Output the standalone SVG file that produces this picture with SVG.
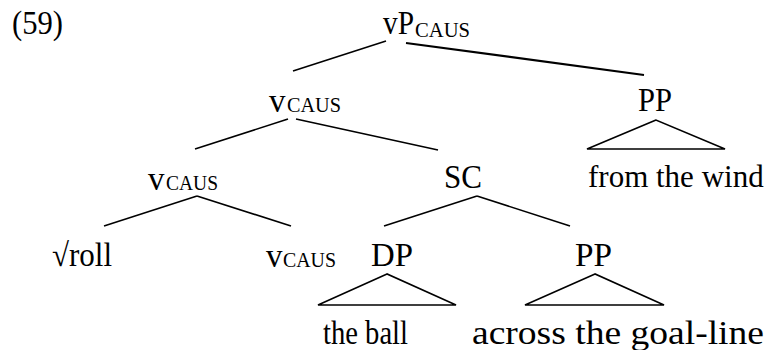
<svg xmlns="http://www.w3.org/2000/svg" width="769" height="350" viewBox="0 0 769 350">
<style>
text{font-family:"Liberation Serif","Times New Roman",serif;fill:#000;font-size:33px}
.sub{font-size:22px}
line{stroke:#000;stroke-width:1.6;stroke-linecap:butt}
polygon{fill:none;stroke:#000;stroke-width:1.6}
</style>
<rect width="769" height="350" fill="#fff"/>
<text x="12" y="34" textLength="51" lengthAdjust="spacingAndGlyphs">(59)</text>
<g id="n-vP"><text x="383" y="34" textLength="31" lengthAdjust="spacingAndGlyphs">vP</text><text class="sub" x="415" y="37" textLength="55" lengthAdjust="spacingAndGlyphs">CAUS</text></g>
<g id="n-vcaus1"><text x="269" y="112">v</text><text class="sub" x="287" y="112" textLength="54" lengthAdjust="spacingAndGlyphs">CAUS</text></g>
<g id="n-PP1"><text x="638" y="111" textLength="34" lengthAdjust="spacingAndGlyphs">PP</text><polygon points="656,120 587,149 725,149"/><text x="588" y="187" style="font-size:31px">from the wind</text></g>
<g id="n-vcaus2"><text x="148" y="190">v</text><text class="sub" x="166" y="190" textLength="52" lengthAdjust="spacingAndGlyphs">CAUS</text></g>
<g id="n-SC"><text x="444" y="188" textLength="38" lengthAdjust="spacingAndGlyphs">SC</text></g>
<g id="n-root"><text x="52" y="266" textLength="60" lengthAdjust="spacingAndGlyphs">√roll</text></g>
<g id="n-vcaus3"><text x="266" y="267">v</text><text class="sub" x="283" y="267" textLength="53" lengthAdjust="spacingAndGlyphs">CAUS</text></g>
<g id="n-DP"><text x="371" y="266" textLength="42" lengthAdjust="spacingAndGlyphs">DP</text><polygon points="387,274 318,305 456,305"/><text x="323" y="344" textLength="85" lengthAdjust="spacingAndGlyphs">the ball</text></g>
<g id="n-PP2"><text x="575" y="266" textLength="37" lengthAdjust="spacingAndGlyphs">PP</text><polygon points="595,274 525,305 664,305"/><text x="472" y="344" textLength="292" lengthAdjust="spacingAndGlyphs">across the goal-line</text></g>
<g id="connectors">
<line x1="386" y1="41" x2="293" y2="71"/>
<line x1="406" y1="43" x2="644" y2="75" style="stroke-width:2.2"/>
<line x1="288" y1="119" x2="195" y2="149"/>
<line x1="296" y1="119" x2="438" y2="150"/>
<line x1="197" y1="196" x2="104" y2="226"/>
<line x1="197" y1="196" x2="291" y2="226"/>
<line x1="477" y1="196" x2="384" y2="226"/>
<line x1="477" y1="196" x2="570" y2="226"/>
</g>
</svg>
